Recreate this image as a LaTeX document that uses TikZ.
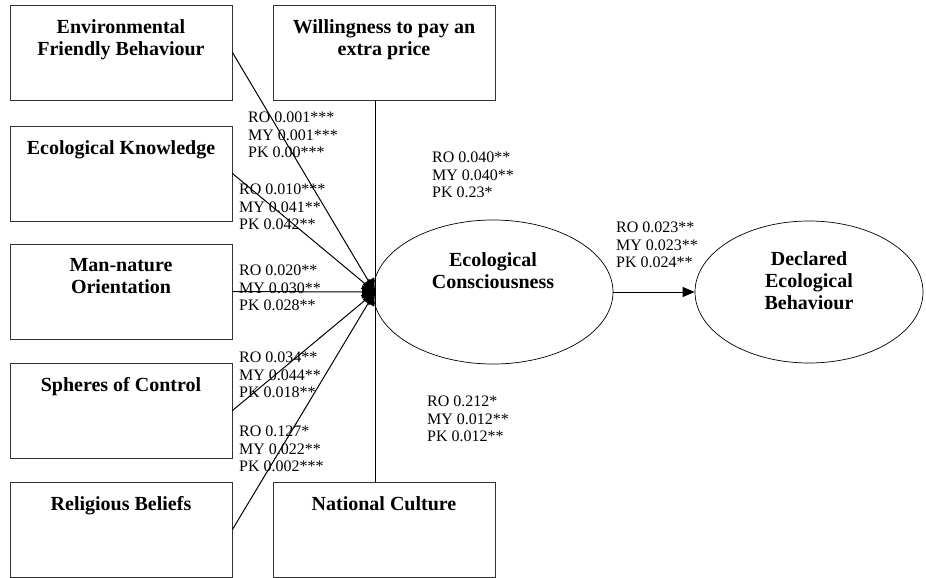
\documentclass[tikz,border=0pt]{standalone}
\usepackage{fontspec}
\setmainfont{Liberation Serif}
\usetikzlibrary{positioning, arrows.meta, shapes.geometric}

\begin{document}
\begin{tikzpicture}[
  x=1pt, y=-1pt,
  factor/.style={draw=black!80, line width=0.9pt, minimum width=222pt, minimum height=95pt, inner sep=0pt},
  construct/.style={draw, ellipse, line width=0.7pt, inner sep=0pt},
  boxtext/.style={font=\fontsize{20}{22}\selectfont\bfseries, align=center, inner sep=0pt},
  coef/.style={font=\fontsize{16}{17.5}\selectfont, align=left, inner sep=0pt, anchor=north west},
  link/.style={line width=1pt},
  hubarrow/.style={line width=1pt, -{Triangle[length=13pt,width=13pt]}}
]
  \useasboundingbox (0,0) rectangle (926,578);

  % antecedents
  \node[factor] (env)  at (121,52.5)  {};
  \node[factor] (know) at (121,173.5) {};
  \node[factor] (man)  at (121,291.5) {};
  \node[factor] (sph)  at (121,410.5) {};
  \node[factor] (rel)  at (121,529.5) {};
  \node[factor] (will) at (384,52.5)  {};
  \node[factor] (nat)  at (384,529.5) {};

  \node[boxtext, below=15pt of env.north]  (envt)  {Environmental\\Friendly Behaviour};
  \node[boxtext, below=15pt of know.north] (knowt) {Ecological Knowledge};
  \node[boxtext, below=15pt of man.north]  (mant)  {Man-nature\\Orientation};
  \node[boxtext, below=15pt of sph.north]  (spht)  {Spheres of Control};
  \node[boxtext, below=15pt of rel.north]  (relt)  {Religious Beliefs};
  \node[boxtext, below=15pt of will.north] (willt) {Willingness to pay an\\extra price};
  \node[boxtext, below=15pt of nat.north]  (natt)  {National Culture};

  % constructs
  \node[construct, minimum width=240pt, minimum height=144pt] (eco) at (493,292) {};
  \node[construct, minimum width=228pt, minimum height=142pt] (dec) at (809,292) {};
  \node[boxtext] (ecot) at ([yshift=21pt]eco.center) {Ecological\\Consciousness};
  \node[boxtext] (dect) at ([yshift=11pt]dec.center) {Declared\\Ecological\\Behaviour};

  % paths
  \coordinate (hub) at (375,292);
  \draw[link] (hub |- will.south) -- (hub |- nat.north);
  \foreach \f in {env,know,man,sph,rel}
    \draw[hubarrow] (\f.east) -- (hub);
  \draw[link, -{Triangle[length=12pt,width=10pt]}] (eco.east) -- (dec.west);

  % coefficients
  \node[coef] (c1) at (248,112) {RO 0.001***\\MY 0.001***\\PK 0.00***};
  \node[coef] (c2) at (239,184) {RO 0.010***\\MY 0.041**\\PK 0.042**};
  \node[coef] (c3) at (239,265) {RO 0.020**\\MY 0.030**\\PK 0.028**};
  \node[coef] (c4) at (239,352) {RO 0.034**\\MY 0.044**\\PK 0.018**};
  \node[coef] (c5) at (239,426) {RO 0.127*\\MY 0.022**\\PK 0.002***};
  \node[coef] (c6) at (432,152) {RO 0.040**\\MY 0.040**\\PK 0.23*};
  \node[coef] (c7) at (616,222) {RO 0.023**\\MY 0.023**\\PK 0.024**};
  \node[coef] (c8) at (427,396) {RO 0.212*\\MY 0.012**\\PK 0.012**};
\end{tikzpicture}
\end{document}
